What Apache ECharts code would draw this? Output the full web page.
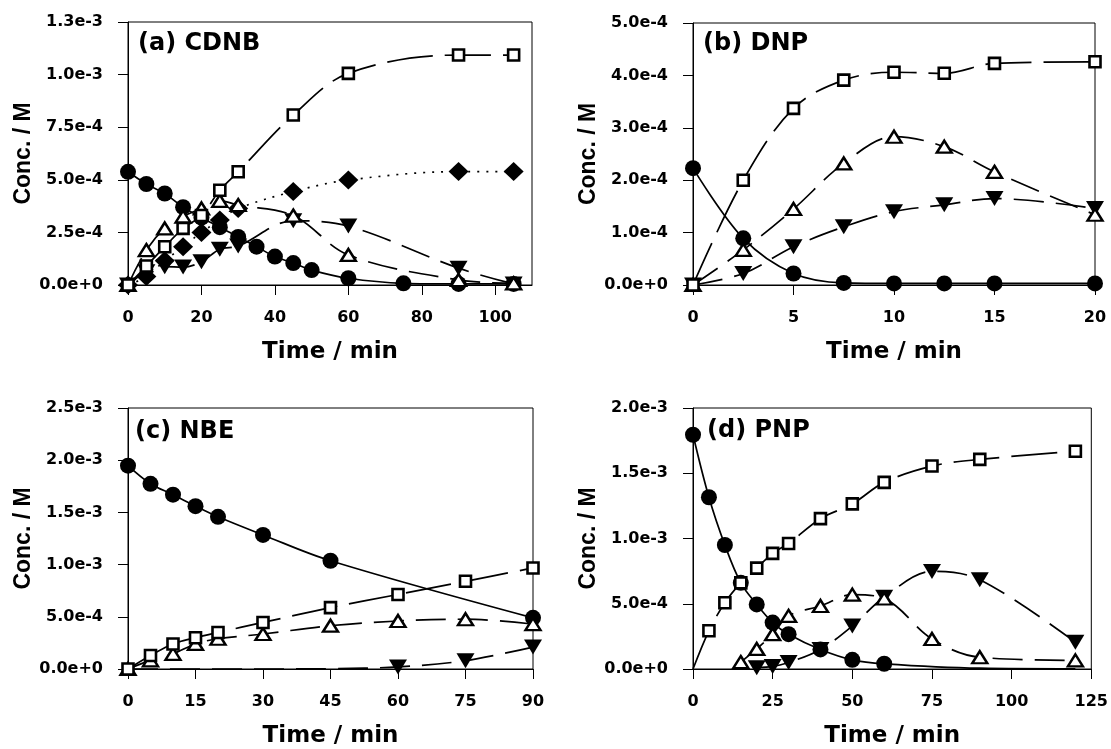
<!DOCTYPE html>
<html>
<head>
<meta charset="utf-8">
<script src="https://cdn.jsdelivr.net/npm/echarts@6/dist/echarts.min.js"></script>
<style>
html,body{margin:0;padding:0;background:#fff;}
#chart{width:1111px;height:749px;}
</style>
</head>
<body>
<div id="chart"></div>
<script>
// ---------- panel (a) CDNB ----------
const aTimeCirc = [0,5,10,15,20,25,30,35,40,45,50,60,75,90,105];
const aCirc     = [5.38e-4,4.80e-4,4.35e-4,3.70e-4,3.20e-4,2.75e-4,2.28e-4,1.82e-4,1.35e-4,1.04e-4,0.71e-4,0.32e-4,0.08e-4,0.05e-4,0.05e-4];
const aTime     = [0,5,10,15,20,25,30,45,60,90,105];
const aSquare   = [0,0.90e-4,1.82e-4,2.69e-4,3.30e-4,4.50e-4,5.38e-4,8.08e-4,10.06e-4,10.93e-4,10.93e-4];
const aDiamond  = [0,0.40e-4,1.15e-4,1.82e-4,2.50e-4,3.09e-4,3.64e-4,4.44e-4,4.99e-4,5.39e-4,5.39e-4];
const aTriUp    = [0,1.66e-4,2.69e-4,3.25e-4,3.64e-4,4.00e-4,3.80e-4,3.30e-4,1.43e-4,0.24e-4,0.08e-4];
const aTriDown  = [0,0.63e-4,0.87e-4,0.85e-4,1.10e-4,1.70e-4,1.85e-4,3.05e-4,2.80e-4,0.80e-4,0.05e-4];

// ---------- panel (b) DNP ----------
const bTime     = [0,2.5,5,7.5,10,12.5,15,20];
const bCirc     = [2.23e-4,0.89e-4,0.22e-4,0.04e-4,0.03e-4,0.03e-4,0.03e-4,0.03e-4];
const bSquare   = [0,2.00e-4,3.37e-4,3.91e-4,4.06e-4,4.04e-4,4.23e-4,4.26e-4];
const bTriUp    = [0,0.67e-4,1.45e-4,2.32e-4,2.83e-4,2.64e-4,2.16e-4,1.34e-4];
const bTriDown  = [0,0.22e-4,0.73e-4,1.11e-4,1.40e-4,1.53e-4,1.65e-4,1.46e-4];

// ---------- panel (c) NBE ----------
const cTimeCirc = [0,5,10,15,20,30,45,90];
const cCirc     = [1.948e-3,1.774e-3,1.670e-3,1.560e-3,1.458e-3,1.284e-3,1.037e-3,0.490e-3];
const cTime     = [0,5,10,15,20,30,45,60,75,90];
const cSquare   = [0,0.130e-3,0.240e-3,0.300e-3,0.350e-3,0.446e-3,0.588e-3,0.714e-3,0.840e-3,0.968e-3];
const cTriUp    = [0,0.083e-3,0.145e-3,0.240e-3,0.290e-3,0.335e-3,0.415e-3,0.460e-3,0.477e-3,0.430e-3];
const cTimeTriDown = [60,75,90];
const cTriDown  = [0.020e-3,0.080e-3,0.210e-3];
const cTriDownCurveT = [0,30,45,60,75,90];
const cTriDownCurve  = [0,0,0.003e-3,0.020e-3,0.080e-3,0.210e-3];

// ---------- panel (d) PNP ----------
const dTimeCirc = [0,5,10,15,20,25,30,40,50,60];
const dCirc     = [1.795e-3,1.316e-3,0.950e-3,0.660e-3,0.495e-3,0.356e-3,0.267e-3,0.150e-3,0.070e-3,0.040e-3];
const dCircCurveT = [0,5,10,15,20,25,30,40,50,60,90,120];
const dCircCurve  = [1.795e-3,1.316e-3,0.950e-3,0.660e-3,0.495e-3,0.356e-3,0.267e-3,0.150e-3,0.070e-3,0.040e-3,0.006e-3,0.001e-3];
const dTimeSq   = [5,10,15,20,25,30,40,50,60,75,90,120];
const dSquare   = [0.293e-3,0.508e-3,0.660e-3,0.773e-3,0.886e-3,0.962e-3,1.152e-3,1.265e-3,1.430e-3,1.555e-3,1.606e-3,1.669e-3];
const dSqCurveT = [0,5,10,15,20,25,30,40,50,60,75,90,120];
const dSqCurve  = [0,0.293e-3,0.508e-3,0.660e-3,0.773e-3,0.886e-3,0.962e-3,1.152e-3,1.265e-3,1.430e-3,1.555e-3,1.606e-3,1.669e-3];
const dTimeTriUp = [15,20,25,30,40,50,60,75,90,120];
const dTriUp    = [0.053e-3,0.154e-3,0.267e-3,0.407e-3,0.483e-3,0.570e-3,0.540e-3,0.230e-3,0.090e-3,0.066e-3];
const dTimeTriDown = [20,25,30,40,50,60,75,90,120];
const dTriDown  = [0.010e-3,0.020e-3,0.050e-3,0.150e-3,0.330e-3,0.550e-3,0.748e-3,0.684e-3,0.205e-3];

// ---------- axis ticks and tick labels ----------
const aXTicks = [0,20,40,60,80,100];
const aXLabels = ['0','20','40','60','80','100'];
const aYTicks = [0,2.5e-4,5e-4,7.5e-4,1e-3,1.25e-3];
const aYLabels = ['0.0e+0','2.5e-4','5.0e-4','7.5e-4','1.0e-3','1.3e-3'];
const bXTicks = [0,5,10,15,20];
const bXLabels = ['0','5','10','15','20'];
const bYTicks = [0,1e-4,2e-4,3e-4,4e-4,5e-4];
const bYLabels = ['0.0e+0','1.0e-4','2.0e-4','3.0e-4','4.0e-4','5.0e-4'];
const cXTicks = [0,15,30,45,60,75,90];
const cXLabels = ['0','15','30','45','60','75','90'];
const cYTicks = [0,5e-4,1e-3,1.5e-3,2e-3,2.5e-3];
const cYLabels = ['0.0e+0','5.0e-4','1.0e-3','1.5e-3','2.0e-3','2.5e-3'];
const dXTicks = [0,25,50,75,100,125];
const dXLabels = ['0','25','50','75','100','125'];
const dYTicks = [0,5e-4,1e-3,1.5e-3,2e-3];
const dYLabels = ['0.0e+0','5.0e-4','1.0e-3','1.5e-3','2.0e-3'];
const panelTitles = ['(a) CDNB','(b) DNP','(c) NBE','(d) PNP'];
const xTitle = 'Time / min';
const yTitle = 'Conc. / M';

const FONT_WIDE = '"DejaVu Sans", Verdana, sans-serif';
const FONT = '"Liberation Sans", Arial, Helvetica, sans-serif';

const grids = [
  {left:128, top:22,  width:404, height:263},
  {left:693, top:23,  width:402, height:262},
  {left:128, top:408, width:405, height:264},
  {left:693, top:408, width:401, height:264}
];
const axisDefs = [
  {xmax:110, xint:20, xt:aXTicks, xl:aXLabels, ymax:1.25e-3, yint:2.5e-4, yt:aYTicks, yl:aYLabels},
  {xmax:20,  xint:5,  xt:bXTicks, xl:bXLabels, ymax:5e-4,   yint:1e-4,   yt:bYTicks, yl:bYLabels},
  {xmax:90,  xint:15, xt:cXTicks, xl:cXLabels, ymax:2.5e-3, yint:5e-4,   yt:cYTicks, yl:cYLabels},
  {xmax:125, xint:25, xt:dXTicks, xl:dXLabels, ymax:2e-3,   yint:5e-4,   yt:dYTicks, yl:dYLabels}
];

function lbl(ticks, labels){
  return function(v){
    for (let i=0;i<ticks.length;i++){
      if (Math.abs(v - ticks[i]) <= Math.abs(ticks[ticks.length-1])*1e-6) return labels[i];
    }
    return '';
  };
}

const xAxes = [], yAxes = [];
axisDefs.forEach((d,i)=>{
  xAxes.push({
    type:'value', gridIndex:i, min:0, max:d.xmax, interval:d.xint,
    axisLine:{show:true,onZero:false,lineStyle:{color:'#000',width:1}},
    axisTick:{show:true,inside:false,length:10,lineStyle:{color:'#000',width:1},customValues:d.xt},
    splitLine:{show:false},
    axisLabel:{color:'#000',fontSize:16,fontFamily:FONT_WIDE,fontWeight:'bold',margin:25,
               customValues:d.xt,formatter:lbl(d.xt,d.xl)},
    name:xTitle, nameLocation:'middle', nameGap:56,
    nameTextStyle:{color:'#000',fontSize:23,fontWeight:'bold',fontFamily:FONT_WIDE}
  });
  yAxes.push({
    type:'value', gridIndex:i, min:0, max:d.ymax, interval:d.yint,
    axisLine:{show:true,onZero:false,lineStyle:{color:'#000',width:1}},
    axisTick:{show:true,inside:false,length:10,lineStyle:{color:'#000',width:1},customValues:d.yt},
    splitLine:{show:false},
    axisLabel:{color:'#000',fontSize:16,fontFamily:FONT_WIDE,fontWeight:'bold',margin:25,
               customValues:d.yt,formatter:lbl(d.yt,d.yl)},
    name:yTitle, nameLocation:'middle', nameGap:93,
    nameTextStyle:{color:'#000',fontSize:23,fontWeight:'bold',fontFamily:FONT}
  });
});

const SYM = {
  circ:{symbol:'circle',size:16,rot:0,fill:'#000',bw:0},
  sq:{symbol:'rect',size:11,rot:0,fill:'#fff',bw:2.6},
  up:{symbol:'triangle',size:[15,12],rot:0,fill:'#fff',bw:2.4},
  dn:{symbol:'triangle',size:[18,15],rot:180,fill:'#000',bw:0},
  dia:{symbol:'diamond',size:[20,19],rot:0,fill:'#000',bw:0}
};
const DASH = {circ:'solid', sq:[46,12], up:[30,12], dn:[30,12], dia:[2,7]};

function pairs(t,v){ return t.map((x,i)=>[x,v[i]]); }

const series = [];
function addSpecies(gi, kind, t, v, ct, cv){
  series.push({
    type:'line', xAxisIndex:gi, yAxisIndex:gi, data:pairs(ct||t, cv||v),
    showSymbol:false, smooth:0.35, z:2, silent:true,
    lineStyle:{color:'#000',width:1.7,type:DASH[kind]}
  });
  const s = SYM[kind];
  series.push({
    type:'scatter', xAxisIndex:gi, yAxisIndex:gi, data:pairs(t,v),
    symbol:s.symbol, symbolSize:s.size, symbolRotate:s.rot, z:5, silent:true,
    itemStyle:{color:s.fill, borderColor:'#000', borderWidth:s.bw, opacity:1}
  });
}

// (a)
addSpecies(0,'circ',aTimeCirc,aCirc);
addSpecies(0,'dia',aTime,aDiamond);
addSpecies(0,'dn',aTime,aTriDown);
addSpecies(0,'up',aTime,aTriUp);
addSpecies(0,'sq',aTime,aSquare);
// (b)
addSpecies(1,'circ',bTime,bCirc);
addSpecies(1,'dn',bTime,bTriDown);
addSpecies(1,'up',bTime,bTriUp);
addSpecies(1,'sq',bTime,bSquare);
// (c)
addSpecies(2,'circ',cTimeCirc,cCirc);
addSpecies(2,'dn',cTimeTriDown,cTriDown,cTriDownCurveT,cTriDownCurve);
addSpecies(2,'up',cTime,cTriUp);
addSpecies(2,'sq',cTime,cSquare);
// (d)
addSpecies(3,'circ',dTimeCirc,dCirc,dCircCurveT,dCircCurve);
addSpecies(3,'dn',dTimeTriDown,dTriDown);
addSpecies(3,'up',dTimeTriUp,dTriUp);
addSpecies(3,'sq',dTimeSq,dSquare,dSqCurveT,dSqCurve);

const titlePos = [[138,32],[703,32],[135,420],[707,419]];
const option = {
  backgroundColor:'#fff',
  animation:false,
  title: panelTitles.map((t,i)=>({
    text:t, left:titlePos[i][0], top:titlePos[i][1], padding:0,
    textStyle:{color:'#000',fontSize:24,fontWeight:'bold',fontFamily:FONT_WIDE}
  })),
  grid: grids.map(g=>Object.assign({show:true,borderColor:'#000',borderWidth:1,backgroundColor:'transparent',containLabel:false},g)),
  xAxis:xAxes,
  yAxis:yAxes,
  series:series
};
const chart = echarts.init(document.getElementById('chart'), null, {renderer:'canvas'});
chart.setOption(option);
</script>
</body>
</html>
